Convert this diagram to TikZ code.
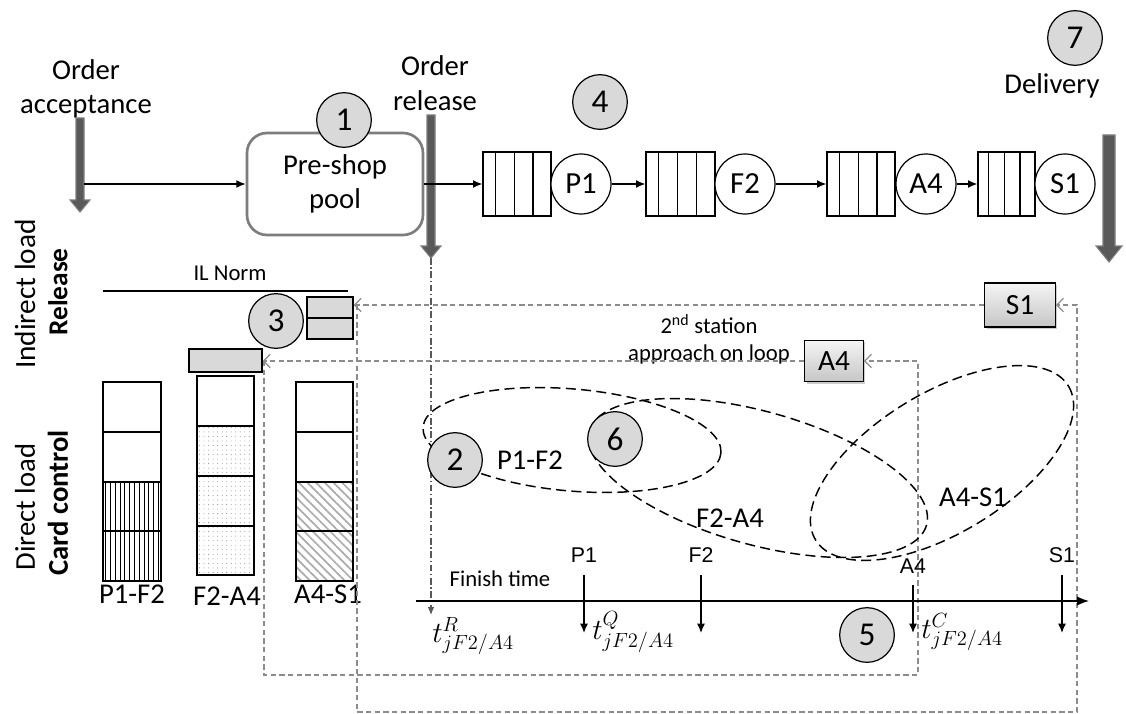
\RequirePackage{fix-cm}
\documentclass[tikz,border=0pt]{standalone}
\usepackage{fontspec}
\setmainfont{Carlito}
\newfontfamily\arialf{Liberation Sans}
\usetikzlibrary{arrows.meta,calc,patterns.meta,shadows}
\definecolor{cgray}{RGB}{217,217,217}
\definecolor{agray}{RGB}{89,89,89}
\definecolor{aedge}{RGB}{125,125,125}
\definecolor{lgray}{RGB}{140,140,140}
\newcommand\fsz[2]{\fontsize{#1}{#2}\selectfont}
\newcommand\barrow[6]{%
  \filldraw[fill=agray, draw=aedge, line width=0.8pt] (#1-#4,#2) -- (#1+#4,#2) -- (#1+#4,#3-#6) -- (#1+#5,#3-#6) -- (#1,#3) -- (#1-#5,#3-#6) -- (#1-#4,#3-#6) -- cycle;}
\begin{document}
\begin{tikzpicture}[x=0.75pt,y=-0.75pt,
  numc/.style={circle, draw, line width=0.9pt, fill=cgray, minimum size=41pt, inner sep=0pt, font=\fsz{25}{29}},
  stc/.style={circle, draw, line width=0.9pt, fill=white, minimum size=45pt, inner sep=0pt, font=\fsz{23}{27}},
  queue/.style={rectangle, draw, line width=0.9pt, minimum height=48pt, inner sep=0pt},
  lbl/.style={inner sep=0pt, font=\fsz{21.5}{26}, align=center},
  small/.style={inner sep=0pt, font=\fsz{17}{20}, align=center},
  tl/.style={inner sep=0pt, font=\arialf\fsz{16}{19}},
  mth/.style={inner sep=0pt, anchor=west, font=\fsz{22}{26}},
  flow/.style={line width=1.1pt, -{Latex[length=7pt,width=6pt]}},
  loopln/.style={draw=lgray, line width=0.9pt, dash pattern=on 4pt off 2.5pt},
  looparr/.style={loopln, -{Straight Barb[length=5pt,width=10pt]}},
  ell/.style={line width=1.1pt, dash pattern=on 7.5pt off 4pt},
  tick/.style={line width=1pt, -{Latex[length=7pt,width=6pt]}},
  grect/.style={rectangle, draw, fill=cgray, line width=0.9pt, inner sep=0pt},
  gbox/.style={rectangle, draw, line width=0.9pt, top color=gray!8, bottom color=gray!45, drop shadow={shadow xshift=1.5pt, shadow yshift=-1.5pt, opacity=0.4}, font=\fsz{22}{26}, inner sep=0pt},
  cellln/.style={line width=0.9pt}]
\useasboundingbox (0,0) rectangle (1126,713);

% ---------- top flow ----------
\node[lbl] (acclbl) at (86,89) {Order\\acceptance};
\node[lbl] (rellbl) at (435,83) {Order\\release};
\node[lbl, anchor=base] (dellbl) at (1052,94) {Delivery};

\barrow{80}{118}{212}{4}{10}{12}
\barrow{431}{115}{258}{4}{10}{12}
\barrow{1109}{135}{262}{6}{13}{16}
\coordinate (acc) at (84,184);
\coordinate (relTip) at (431,258);

\node[rectangle, rounded corners=15pt, draw=aedge, line width=2pt, minimum width=132pt, minimum height=76.5pt, inner sep=0pt, font=\fsz{21.5}{25.5}, align=center] (pool) at (335,184) {Pre-shop\\pool};

\node[queue, minimum width=51pt] (q1) at (517,184) {};
\node[queue, minimum width=51.75pt] (q2) at (680.5,184) {};
\node[queue, minimum width=51pt] (q3) at (861,184) {};
\node[queue, minimum width=42.75pt] (q4) at (1006.5,184) {};
\foreach \q in {q1,q2,q3,q4}{
  \foreach \f in {0.19,0.46,0.73}{
    \draw[cellln] ($(\q.north west)!\f!(\q.north east)$) -- ($(\q.south west)!\f!(\q.south east)$);}}
\node[stc] (P1) at (581,184) {P1};
\node[stc] (F2) at (745,184) {F2};
\node[stc] (A4) at (926,184) {A4};
\node[stc] (S1) at (1065,184) {S1};

\draw[flow] (acc) -- (pool.west);
\draw[flow] (pool.east) -- (q1.west);
\draw[flow] (P1.east) -- (q2.west);
\draw[flow] (F2.east) -- (q3.west);
\draw[flow] (A4.east) -- (q4.west);

% ---------- left labels ----------
\node[lbl, rotate=90, font=\fsz{22}{26}] (indl) at (25,294) {Indirect load};
\node[lbl, rotate=90, font=\fsz{20.5}{25}\bfseries] (rell) at (58,292) {Release};
\node[lbl, rotate=90] (dirl) at (25,507) {Direct load};
\node[lbl, rotate=90, font=\fsz{21.5}{26}\bfseries] (ccl) at (58,503) {Card control};

% ---------- IL norm ----------
\node[small, anchor=base] (ilnorm) at (230,280) {IL Norm};
\coordinate (ilA) at (103,291);
\coordinate (ilB) at (348,291);
\draw[line width=0.9pt] (ilA) -- (ilB);

\node[grect, minimum width=34.5pt, minimum height=31.5pt] (ilstack) at (330,318) {};
\draw[cellln] (ilstack.west) -- (ilstack.east);
\node[grect, minimum width=54.75pt, minimum height=17.25pt] (ilbar) at (225.5,360.5) {};

% ---------- card bars ----------
\draw[cellln] (103,382) rectangle (161,432);
\draw[cellln] (103,432) rectangle (161,482);
\draw[cellln, pattern={Lines[angle=90,distance=3.6pt,line width=0.5pt]}] (103,482) rectangle (161,531);
\draw[cellln, pattern={Lines[angle=90,distance=3.6pt,line width=0.5pt]}] (103,531) rectangle (161,581);

\draw[cellln] (197,376) rectangle (254,426);
\draw[cellln, pattern={Dots[distance=3.4pt,radius=0.35pt]}, pattern color=gray] (197,426) rectangle (254,476);
\draw[cellln, pattern={Dots[distance=3.4pt,radius=0.35pt]}, pattern color=gray] (197,476) rectangle (254,526);
\draw[cellln, pattern={Dots[distance=3.4pt,radius=0.35pt]}, pattern color=gray] (197,526) rectangle (254,575);

\draw[cellln] (296,382) rectangle (353,432);
\draw[cellln] (296,432) rectangle (353,482);
\draw[cellln, pattern={Lines[angle=-45,distance=4.6pt,line width=1.3pt]}, pattern color=gray!65] (296,482) rectangle (353,531);
\draw[cellln, pattern={Lines[angle=-45,distance=4.6pt,line width=1.3pt]}, pattern color=gray!65] (296,531) rectangle (353,581);

\node[lbl, anchor=base] (b1) at (132,603) {P1-F2};
\node[lbl, anchor=base] (b2) at (227,605) {F2-A4};
\node[lbl, anchor=base] (b3) at (328,603) {A4-S1};

% ---------- loops ----------
\node[gbox, minimum width=53pt, minimum height=33pt] (S1box) at (1020,305) {S1};
\node[gbox, minimum width=44pt, minimum height=31pt] (A4box) at (834,361) {A4};
\node[small] (station) at (709,339) {2\textsuperscript{nd} station\\approach on loop};

\coordinate (oTL) at (357,305);
\coordinate (oBL) at (357,712);
\coordinate (oBR) at (1077,712);
\coordinate (oTR) at (1077,305);
\draw[looparr] (S1box.west) -- (S1box.west -| ilstack.east);
\draw[looparr] (oTL) -- (oBL) -- (oBR) -- (oTR) -- (S1box.east);

\coordinate (iTL) at (264,361);
\coordinate (iBL) at (264,675);
\coordinate (iBR) at (918,675);
\coordinate (iTR) at (918,361);
\draw[looparr] (A4box.west) -- (A4box.west -| ilbar.east);
\draw[looparr] (iTL) -- (iBL) -- (iBR) -- (iTR) -- (A4box.east);

% ---------- release time line ----------
\coordinate (relEnd) at (431,615);
\draw[draw=agray, line width=0.8pt, dash pattern=on 5pt off 2pt on 1pt off 2pt, -{Latex[length=6pt,width=5pt]}] (relTip) -- (relEnd);

% ---------- ellipses ----------
\draw[ell, rotate around={-5:(572,440)}] (572,440) ellipse [x radius=149.5, y radius=51];
\draw[ell, rotate around={-15.6:(758,478)}] (758,478) ellipse [x radius=175, y radius=66.5];
\draw[ell, rotate around={31.3:(942,463)}] (942,463) ellipse [x radius=148, y radius=70];
\node[lbl] (e1) at (530,460) {P1-F2};
\node[lbl] (e2) at (730,518) {F2-A4};
\node[lbl] (e3) at (973,497) {A4-S1};

% ---------- time axis ----------
\coordinate (tl0) at (416,601);
\coordinate (tl1) at (1089,601);
\draw[line width=1.1pt, -{Latex[length=9pt,width=7pt]}] (tl0) -- (tl1);
\node[small, anchor=base] (fin) at (500,586) {Finish time};
\node[tl, anchor=base] (lP1) at (584,562) {P1};
\node[tl, anchor=base] (lF2) at (701,562) {F2};
\node[tl, anchor=base] (lA4) at (913,573) {A4};
\node[tl, anchor=base] (lS1) at (1062,562) {S1};
\draw[tick] ([yshift=-9.75pt]lP1.base) -- ([yshift=-53.25pt]lP1.base);
\draw[tick] ([yshift=-9.75pt]lF2.base) -- ([yshift=-53.25pt]lF2.base);
\draw[tick] ([yshift=-9pt]lA4.base) -- ([yshift=-45pt]lA4.base);
\draw[tick] ([yshift=-9.75pt]lS1.base) -- ([yshift=-53.25pt]lS1.base);
\node[mth] (tR) at (432,636) {$t^{R}_{jF2/A4}$};
\node[mth] (tQ) at (592,632) {$t^{Q}_{jF2/A4}$};
\node[mth] (tC) at (921,632) {$t^{C}_{jF2/A4}$};

% ---------- numbered circles ----------
\node[numc] (n1) at (344,120) {1};
\node[numc] (n2) at (455,460) {2};
\node[numc] (n3) at (276,321) {3};
\node[numc] (n4) at (600,102) {4};
\node[numc] (n5) at (867,635) {5};
\node[numc] (n6) at (615,439) {6};
\node[numc] (n7) at (1075,38) {7};
\end{tikzpicture}
\end{document}
